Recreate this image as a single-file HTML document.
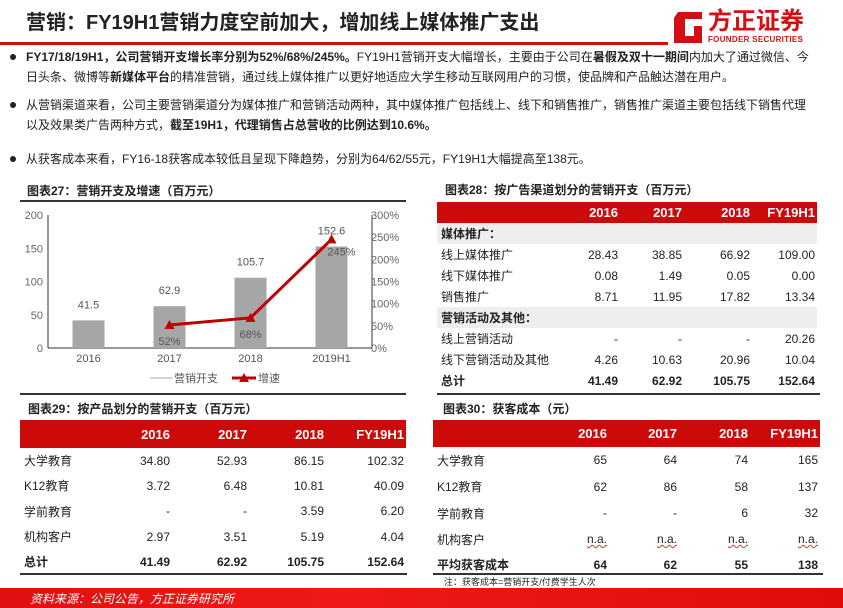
<!DOCTYPE html>
<html><head><meta charset="utf-8">
<style>
*{margin:0;padding:0;box-sizing:border-box}
body{width:843px;height:608px;position:relative;background:#fff;font-family:"Liberation Sans","Noto Sans CJK SC",sans-serif;color:#222;overflow:hidden}
.abs{position:absolute}
.title{left:26px;top:6px;font-size:20px;font-weight:bold;color:#222;letter-spacing:0px}
.bul{left:26px;font-size:12px;line-height:20px;width:790px;color:#222}
.bul::before{content:"";position:absolute;left:-16px;top:7px;width:6px;height:6px;border-radius:50%;background:#222}
.ct{font-size:12px;font-weight:bold;color:#222}
table{border-collapse:collapse;font-size:12px;position:absolute;table-layout:fixed}
td{padding:0 2px;text-align:right;white-space:nowrap}
td:first-child{text-align:left;padding-left:4px}
tr.hd td{background:#cc0a0a;color:#fff;font-weight:bold;font-size:13px}
tr.grp td{background:#eeeeee;font-weight:bold}
tr.tot td{font-weight:bold}
.na{text-decoration:underline wavy #d33;text-decoration-thickness:1px}
</style></head><body>
<div class="abs title">营销：FY19H1营销力度空前加大，增加线上媒体推广支出</div>
<div class="abs" style="left:0;top:42px;width:668px;height:3px;background:#d40f14"></div>
<div class="abs" style="left:672px;top:8px;width:145px;height:38px">
 <svg width="32" height="34" style="position:absolute;left:0;top:2px"><path d="M6 2 L30 2 L30 9 L13 9 L13 26 L22 26 L22 16 L30 16 L30 33 L2 33 L2 8 Z" fill="#d40f14"/></svg>
 <div style="position:absolute;left:36px;top:0;font-size:24px;font-weight:bold;color:#d40f14;line-height:28px">方正证券</div>
 <div style="position:absolute;left:36px;top:27px;font-size:8px;font-weight:bold;color:#d40f14;letter-spacing:0.3px">FOUNDER SECURITIES</div>
</div>
<div class="abs bul" style="top:47px"><b>FY17/18/19H1，公司营销开支增长率分别为52%/68%/245%。</b>FY19H1营销开支大幅增长，主要由于公司在<b>暑假及双十一期间</b>内加大了通过微信、今日头条、微博等<b>新媒体平台</b>的精准营销，通过线上媒体推广以更好地适应大学生移动互联网用户的习惯，使品牌和产品触达潜在用户。</div>
<div class="abs bul" style="top:95px">从营销渠道来看，公司主要营销渠道分为媒体推广和营销活动两种，其中媒体推广包括线上、线下和销售推广，销售推广渠道主要包括线下销售代理以及效果类广告两种方式，<b>截至19H1，代理销售占总营收的比例达到10.6%。</b></div>
<div class="abs bul" style="top:149px">从获客成本来看，FY16-18获客成本较低且呈现下降趋势，分别为64/62/55元，FY19H1大幅提高至138元。</div>

<div class="abs ct" style="left:27px;top:182px">图表27：营销开支及增速（百万元）</div>
<div class="abs" style="left:20px;top:200px;width:386px;height:2px;background:#333"></div>
<svg class="abs" id="chart" style="left:0;top:200px" width="420" height="195"></svg>
<div class="abs" style="left:20px;top:393px;width:386px;height:2px;background:#333"></div>

<div class="abs ct" style="left:445px;top:181px">图表28：按广告渠道划分的营销开支（百万元）</div>
<table style="left:437px;top:202px;width:380px">
<colgroup><col style="width:123px"><col style="width:60px"><col style="width:64px"><col style="width:68px"><col style="width:65px"></colgroup>
<tr class="hd" style="height:21px"><td></td><td>2016</td><td>2017</td><td>2018</td><td>FY19H1</td></tr>
<tr class="grp" style="height:21px"><td colspan="5">媒体推广：</td></tr>
<tr style="height:21px"><td>线上媒体推广</td><td>28.43</td><td>38.85</td><td>66.92</td><td>109.00</td></tr>
<tr style="height:21px"><td>线下媒体推广</td><td>0.08</td><td>1.49</td><td>0.05</td><td>0.00</td></tr>
<tr style="height:21px"><td>销售推广</td><td>8.71</td><td>11.95</td><td>17.82</td><td>13.34</td></tr>
<tr class="grp" style="height:21px"><td colspan="5">营销活动及其他：</td></tr>
<tr style="height:21px"><td>线上营销活动</td><td>-</td><td>-</td><td>-</td><td>20.26</td></tr>
<tr style="height:21px"><td>线下营销活动及其他</td><td>4.26</td><td>10.63</td><td>20.96</td><td>10.04</td></tr>
<tr class="tot" style="height:21px"><td>总计</td><td>41.49</td><td>62.92</td><td>105.75</td><td>152.64</td></tr>
</table>
<div class="abs" style="left:437px;top:393px;width:383px;height:2px;background:#333"></div>

<div class="abs ct" style="left:28px;top:400px">图表29：按产品划分的营销开支（百万元）</div>
<table style="left:20px;top:420px;width:386px">
<colgroup><col style="width:90px"><col style="width:62px"><col style="width:77px"><col style="width:77px"><col style="width:80px"></colgroup>
<tr class="hd" style="height:28px"><td></td><td>2016</td><td>2017</td><td>2018</td><td>FY19H1</td></tr>
<tr style="height:25px"><td>大学教育</td><td>34.80</td><td>52.93</td><td>86.15</td><td>102.32</td></tr>
<tr style="height:25px"><td>K12教育</td><td>3.72</td><td>6.48</td><td>10.81</td><td>40.09</td></tr>
<tr style="height:26px"><td>学前教育</td><td>-</td><td>-</td><td>3.59</td><td>6.20</td></tr>
<tr style="height:25px"><td>机构客户</td><td>2.97</td><td>3.51</td><td>5.19</td><td>4.04</td></tr>
<tr class="tot" style="height:25px"><td>总计</td><td>41.49</td><td>62.92</td><td>105.75</td><td>152.64</td></tr>
</table>
<div class="abs" style="left:20px;top:573px;width:387px;height:2px;background:#333"></div>

<div class="abs ct" style="left:443px;top:400px">图表30：获客成本（元）</div>
<table style="left:433px;top:420px;width:387px">
<colgroup><col style="width:110px"><col style="width:66px"><col style="width:70px"><col style="width:71px"><col style="width:70px"></colgroup>
<tr class="hd" style="height:27px"><td></td><td>2016</td><td>2017</td><td>2018</td><td>FY19H1</td></tr>
<tr style="height:26px"><td>大学教育</td><td>65</td><td>64</td><td>74</td><td>165</td></tr>
<tr style="height:27px"><td>K12教育</td><td>62</td><td>86</td><td>58</td><td>137</td></tr>
<tr style="height:26px"><td>学前教育</td><td>-</td><td>-</td><td>6</td><td>32</td></tr>
<tr style="height:26px"><td>机构客户</td><td><span class="na">n.a.</span></td><td><span class="na">n.a.</span></td><td><span class="na">n.a.</span></td><td><span class="na">n.a.</span></td></tr>
<tr class="tot" style="height:25px"><td>平均获客成本</td><td>64</td><td>62</td><td>55</td><td>138</td></tr>
</table>
<div class="abs" style="left:433px;top:573px;width:390px;height:2px;background:#333"></div>
<div class="abs" style="left:444px;top:575px;font-size:9px">注：获客成本=营销开支/付费学生人次</div>

<div class="abs" style="left:0;top:588px;width:843px;height:20px;background:linear-gradient(90deg,#e01010,#f01818 40%,#e00c0c)"></div>
<div class="abs" style="left:30px;top:590px;font-size:12px;font-style:italic;color:#fff">资料来源：公司公告，方正证券研究所</div>

<script>
const categories=["2016","2017","2018","2019H1"];
const expense=[41.5,62.9,105.7,152.6];
const growth=[null,52,68,245];
const leftTicks=[0,50,100,150,200];
const rightTicks=[0,50,100,150,200,250,300];
const svg=document.getElementById('chart');
const NS='http://www.w3.org/2000/svg';
const X0=48,X1=372,Y0=148,Y1=15;
const yL=v=>Y0-(v/200)*(Y0-Y1);
const yR=v=>Y0-(v/300)*(Y0-Y1);
const xC=i=>X0+(X1-X0)*(i+0.5)/categories.length;
function mk(t,a,txt){const e=document.createElementNS(NS,t);for(const k in a)e.setAttribute(k,a[k]);if(txt!=null)e.textContent=txt;svg.appendChild(e);return e;}
let e;
e=mk('line',{x1:X0,y1:Y1,x2:X0,y2:Y0,stroke:'#333','stroke-width':1});


e=mk('line',{x1:X1,y1:Y1,x2:X1,y2:Y0,stroke:'#333','stroke-width':1});


e=mk('line',{x1:X0,y1:Y0,x2:X1,y2:Y0,stroke:'#333','stroke-width':1});


leftTicks.forEach(v=>{e=mk('text',{x:X0-5,y:yL(v)+4,'text-anchor':'end','font-size':11,fill:'#666'},v);

});
rightTicks.forEach(v=>{e=mk('text',{x:X1-1,y:yR(v)+4,'font-size':11,fill:'#666'},v+'%');

});
categories.forEach((c,i)=>{
 const x=xC(i);
 e=mk('rect',{x:x-16,y:yL(expense[i]),width:32,height:Y0-yL(expense[i]),fill:'#a6a6a6'});
 
 
 e=mk('text',{x:x,y:yL(expense[i])-12,'text-anchor':'middle','font-size':11,fill:'#555'},expense[i]);
 
 
 e=mk('text',{x:x,y:Y0+14,'text-anchor':'middle','font-size':11,fill:'#555'},c);
 
 
});
const pts=[];growth.forEach((g,i)=>{if(g!=null)pts.push([xC(i),yR(g),g]);});
e=mk('polyline',{points:pts.map(p=>p[0]+','+p[1]).join(' '),fill:'none',stroke:'#c00000','stroke-width':3});


pts.forEach((p,k)=>{
 e=mk('path',{d:`M${p[0]-5},${p[1]+4} L${p[0]+5},${p[1]+4} L${p[0]},${p[1]-5} Z`,fill:'#c00000'});
 
 
 const last=k===pts.length-1;
 e=mk('text',{x:last?p[0]+10:p[0],y:last?p[1]+16:p[1]+20,'text-anchor':'middle','font-size':11,fill:'#555'},p[2]+'%');
 
 
});
e=mk('line',{x1:150,y1:178,x2:172,y2:178,stroke:'#aaa','stroke-width':1});


e=mk('text',{x:174,y:182,'font-size':11,fill:'#555'},'营销开支');


e=mk('line',{x1:232,y1:178,x2:256,y2:178,stroke:'#c00000','stroke-width':3});


e=mk('path',{d:'M239,182 L249,182 L244,173 Z',fill:'#c00000'});
e=mk('text',{x:258,y:182,'font-size':11,fill:'#555'},'增速');


</script>
</body></html>
